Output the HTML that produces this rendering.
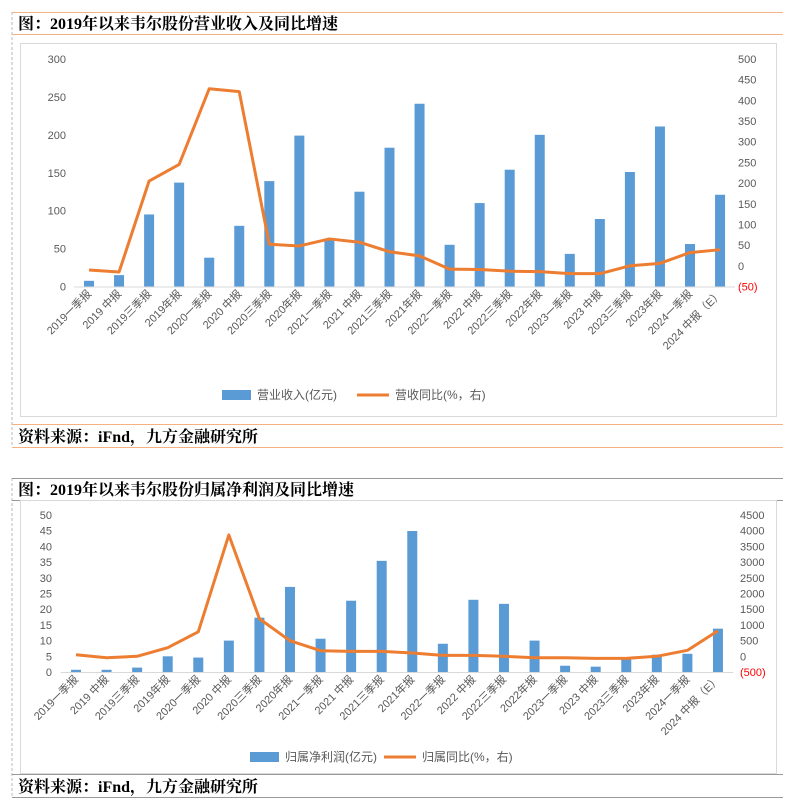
<!DOCTYPE html>
<html><head><meta charset="utf-8">
<style>
body{margin:0;background:#fff;width:793px;height:809px;overflow:hidden;font-family:"Liberation Sans","Noto Sans CJK SC",sans-serif;}
svg{position:absolute;left:0;top:0}
</style></head>
<body>
<svg id="s" width="793" height="809" xmlns="http://www.w3.org/2000/svg">
<g>
<line x1="12" y1="12" x2="12" y2="447" stroke="#bbb" stroke-dasharray="3,2"/>
<line x1="12" y1="12.5" x2="783" y2="12.5" stroke="#f4b183"/>
<line x1="12" y1="34.5" x2="783" y2="34.5" stroke="#f4b183"/>
<text x="18" y="29" font-size="16" font-weight="bold" font-family="Liberation Serif,'Noto Serif CJK SC',serif">图：2019年以来韦尔股份营业收入及同比增速</text>
<rect x="20.5" y="43.5" width="756" height="373" fill="none" stroke="#d9d9d9"/>
<line x1="12" y1="424.5" x2="783" y2="424.5" stroke="#f4b183"/>
<text x="18" y="442" font-size="16" font-weight="bold" font-family="Liberation Serif,'Noto Serif CJK SC',serif">资料来源：iFnd，九方金融研究所</text>
<line x1="12" y1="447.5" x2="783" y2="447.5" stroke="#f4b183"/>
</g>
<g>
<line x1="12" y1="478" x2="12" y2="798" stroke="#bbb" stroke-dasharray="3,2"/>
<line x1="12" y1="478.5" x2="783" y2="478.5" stroke="#999"/>
<line x1="12" y1="500.5" x2="783" y2="500.5" stroke="#999"/>
<text x="18" y="495" font-size="16" font-weight="bold" font-family="Liberation Serif,'Noto Serif CJK SC',serif">图：2019年以来韦尔股份归属净利润及同比增速</text>
<rect x="20.5" y="500.5" width="756" height="273" fill="none" stroke="#d9d9d9"/>
<line x1="12" y1="774.5" x2="783" y2="774.5" stroke="#999"/>
<text x="18" y="792" font-size="16" font-weight="bold" font-family="Liberation Serif,'Noto Serif CJK SC',serif">资料来源：iFnd，九方金融研究所</text>
<line x1="12" y1="797.5" x2="783" y2="797.5" stroke="#999"/>
</g>
</svg>
<script>
const categories=["2019一季报","2019 中报","2019三季报","2019年报","2020一季报","2020 中报","2020三季报","2020年报","2021一季报","2021 中报","2021三季报","2021年报","2022一季报","2022 中报","2022三季报","2022年报","2023一季报","2023 中报","2023三季报","2023年报","2024一季报","2024 中报（E）"];
const revenue=[7.5,15,95,137,38,80,139,199,62,125,183,241,55,110,154,200,43,89,151,211,56,121];
const revenueYoY=[-10,-15,205,245,428,421,52,48,65,57,34,24,-8,-9,-13,-14,-19,-19,0,6,32,39];
const profit=[0.7,0.7,1.4,5,4.6,10,17.3,27.1,10.6,22.7,35.4,44.9,9,23,21.7,10,2,1.7,4.5,5.5,5.8,13.8];
const profitYoY=[51,-45,0,273,780,3864,1195,496,178,157,157,104,30,30,0,-45,-45,-65,-65,0,190,813];
const topLeftTicks=[0,50,100,150,200,250,300];
const topRightTicks=[-50,0,50,100,150,200,250,300,350,400,450,500];
const botLeftTicks=[0,5,10,15,20,25,30,35,40,45,50];
const botRightTicks=[-500,0,500,1000,1500,2000,2500,3000,3500,4000,4500];

const svg=document.getElementById('s');
const NS='http://www.w3.org/2000/svg';
function mk(tag,at,parent,txt){const e=document.createElementNS(NS,tag);for(const k in at)e.setAttribute(k,at[k]);if(txt!==undefined)e.textContent=txt;(parent||svg).appendChild(e);return e;}
function fmt(v){return v<0?'('+(-v)+')':String(v);}

function drawChart(prefix,cfg){
  const g=mk('g',{});
  
  
  const y0=cfg.yBot,y1=cfg.yTop;
  const ly=v=>y0-(v-cfg.lMin)/(cfg.lMax-cfg.lMin)*(y0-y1);
  const ry=v=>y0-(v-cfg.rMin)/(cfg.rMax-cfg.rMin)*(y0-y1);
  const xs=i=>cfg.x0+i*cfg.step;
  cfg.lTicks.forEach(t=>{const e=mk('text',{x:cfg.lx,y:ly(t)+4,'font-size':11,fill:'#595959','text-anchor':'end'},g,fmt(t));
    
    });
  cfg.rTicks.forEach(t=>{const e=mk('text',{x:cfg.rx,y:ry(t)+4,'font-size':11,fill:t<0?'#ff0000':'#595959','text-anchor':'start'},g,fmt(t));
    
    });
  const ax=mk('line',{x1:cfg.x0-cfg.step/2,x2:xs(categories.length-1)+cfg.step/2,y1:ly(0)+0.5,y2:ly(0)+0.5,stroke:'#d9d9d9'},g);
  
  
  cfg.bars.forEach((v,i)=>{const b=mk('rect',{x:xs(i)-5,y:ly(v),width:10,height:ly(0)-ly(v),fill:'#5b9bd5'},g);
    
    });
  const pts=cfg.line.map((v,i)=>xs(i)+','+ry(v)).join(' ');
  const pl=mk('polyline',{points:pts,fill:'none',stroke:'#ed7d31','stroke-width':3,'stroke-linejoin':'round'},g);
  
  
  categories.forEach((c,i)=>{const x=xs(i)+3,y=ly(0)+8;
    const t=mk('text',{x:x,y:y,'font-size':11,fill:'#595959','text-anchor':'end',transform:'rotate(-45 '+x+' '+y+')'},g,c);
    
    });
  const lg=mk('g',{},g);
  
  
  const le1=mk('g',{},lg);
  
  
  mk('rect',{x:cfg.legX,y:cfg.legY-5,width:29,height:10,fill:'#5b9bd5'},le1);
  mk('text',{x:cfg.legX+35,y:cfg.legY+4,'font-size':12,fill:'#595959'},le1,cfg.barName);
  const le2=mk('g',{},lg);
  
  
  mk('line',{x1:cfg.legX2,x2:cfg.legX2+32,y1:cfg.legY,y2:cfg.legY,stroke:'#ed7d31','stroke-width':3},le2);
  mk('text',{x:cfg.legX2+38,y:cfg.legY+4,'font-size':12,fill:'#595959'},le2,cfg.lineName);
}
drawChart('revenue',{yTop:59,yBot:286.5,lMin:0,lMax:300,rMin:-50,rMax:500,x0:89,step:30.05,lx:66,rx:738,
  lTicks:topLeftTicks,rTicks:topRightTicks,bars:revenue,line:revenueYoY,legX:222,legX2:357,legY:395,
  barName:'营业收入(亿元)',lineName:'营收同比(%，右)'});
drawChart('profit',{yTop:515,yBot:672,lMin:0,lMax:50,rMin:-500,rMax:4500,x0:76,step:30.57,lx:52,rx:740,
  lTicks:botLeftTicks,rTicks:botRightTicks,bars:profit,line:profitYoY,legX:250,legX2:384,legY:757,
  barName:'归属净利润(亿元)',lineName:'归属同比(%，右)'});
</script>
</body></html>
